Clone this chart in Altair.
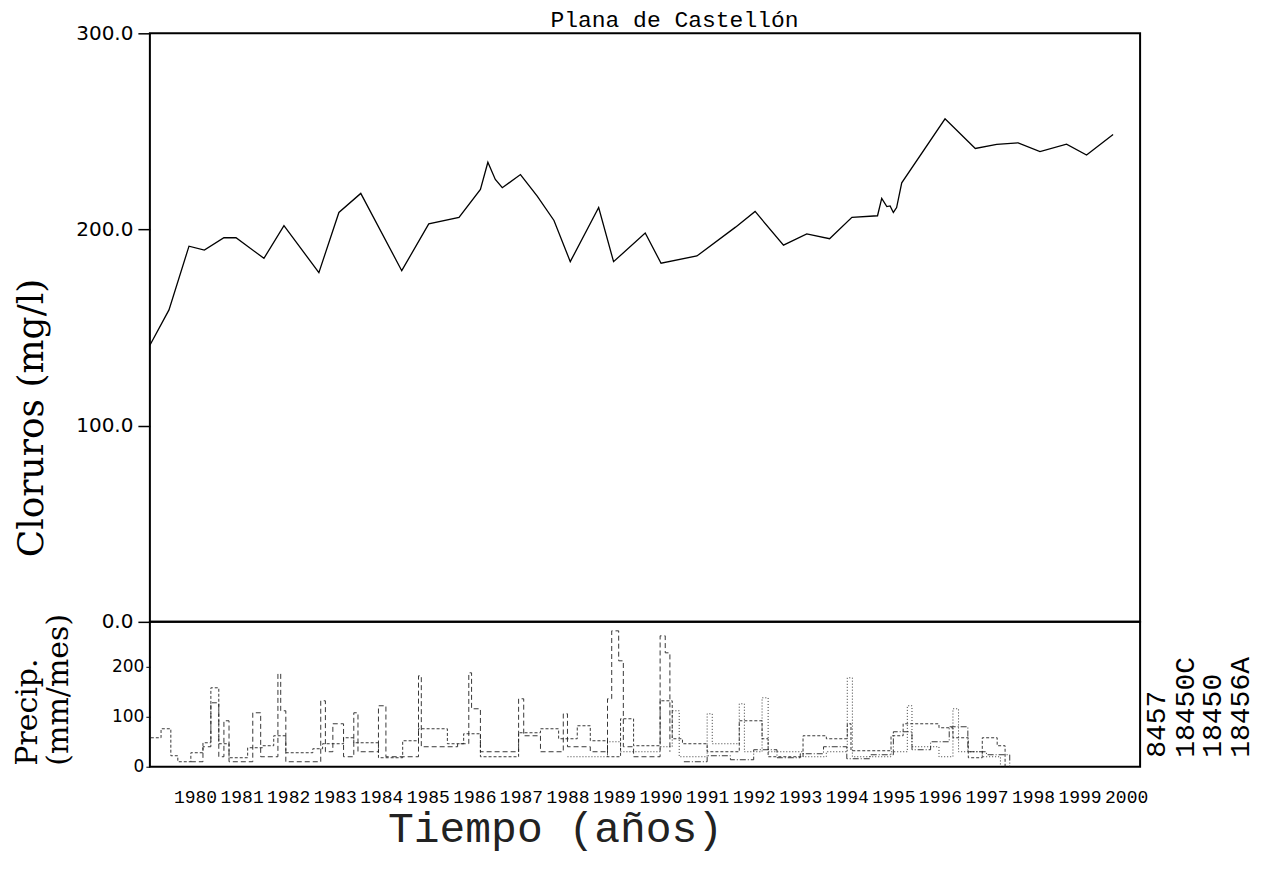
import altair as alt
import pandas as pd

# ---------------- data ----------------
main_title = "Plana de Castellón"
cl_axis_title = "Cloruros (mg/l)"
pr_axis_title_1 = "Precip."
pr_axis_title_2 = "(mm/mes)"
x_axis_title = "Tiempo (años)"

# chloride concentration (mg/l)
cl_year = [1979.03, 1979.44, 1979.87, 1980.20, 1980.62, 1980.88, 1981.48, 1981.91,
           1982.66, 1983.09, 1983.56, 1984.44, 1985.02, 1985.67, 1986.13, 1986.29,
           1986.45, 1986.60, 1986.99, 1987.35, 1987.71, 1988.06, 1988.67, 1988.99,
           1989.67, 1990.01, 1990.78, 1991.61, 1992.03, 1992.64, 1993.14, 1993.63,
           1994.11, 1994.66, 1994.75, 1994.86, 1994.93, 1995.00, 1995.07, 1995.18,
           1996.11, 1996.76, 1997.22, 1997.68, 1998.15, 1998.72, 1999.15, 1999.72]
cl_value = [141, 159, 191.5, 189.5, 195.8, 195.8, 185.3, 202,
            178, 208.7, 218.4, 179, 202.9, 206.2, 220.4, 234.3,
            225.5, 221.3, 228, 217, 204.6, 183.6, 211.2, 183.6,
            198.2, 182.8, 186.5, 201.2, 209.2, 192, 197.8, 195.3,
            206.2, 207, 215.9, 211.7, 212, 208.7, 211.2, 223.8,
            256.4, 241.3, 243.4, 244.2, 239.7, 243.5, 238, 248.4]

stations = ["8457", "18450C", "18450", "18456A"]

# monthly precipitation (mm/mes), one step series per station
p1_year = [1979.05, 1979.27, 1979.48, 1979.63, 1979.91, 1980.17, 1980.34, 1980.51, 1980.73,
           1981.13, 1981.45, 1981.69, 1981.95, 1982.53, 1982.74, 1983.19, 1983.41, 1983.94,
           1984.46, 1984.80, 1985.42, 1985.77, 1986.13, 1986.95, 1987.42, 1987.81, 1988.21,
           1988.49, 1988.86, 1989.14, 1989.42, 1989.99, 1990.25, 1990.47, 1991.00, 1991.69,
           1992.18, 1992.31, 1993.06, 1993.56, 1994.01, 1994.09, 1994.95, 1995.21, 1995.98,
           1996.28, 1996.61, 1996.91, 1997.23, 1997.40]
p1_val = [58, 76, 22, 10, 28, 48, 158, 46, 18,
          38, 42, 62, 28, 36, 46, 58, 48, 18,
          52, 76, 46, 66, 20, 68, 76, 56, 82,
          52, 20, 96, 42, 132, 56, 46, 30, 92,
          56, 20, 62, 56, 86, 32, 62, 86, 78,
          58, 18, 58, 42, 0]

p2_year = [1979.91, 1980.17, 1980.34, 1980.51, 1980.62, 1980.73, 1981.24, 1981.41, 1981.78,
           1981.84, 1981.95, 1982.70, 1982.80, 1982.96, 1983.19, 1983.41, 1983.50, 1983.94,
           1984.10, 1984.80, 1984.86, 1985.64, 1985.88, 1985.94, 1986.13, 1986.95, 1987.06,
           1987.42, 1987.91, 1988.00, 1988.49, 1988.86, 1988.95, 1989.10, 1989.20, 1989.42,
           1989.99, 1990.10, 1990.20]
p2_val = [10, 40, 128, 20, 92, 10, 108, 20, 186,
          112, 10, 132, 30, 86, 20, 108, 30, 122,
          20, 182, 40, 46, 188, 116, 30, 136, 62,
          30, 106, 40, 30, 136, 272, 212, 40, 20,
          262, 228, 30]

p3_year = [1988.00, 1988.86, 1989.14, 1989.99, 1990.25, 1990.40, 1991.00, 1991.11,
           1991.69, 1991.80, 1992.18, 1992.31, 1993.06, 1993.56, 1994.01, 1994.12,
           1994.95, 1995.30, 1995.40, 1995.98, 1996.28, 1996.40, 1996.91, 1997.30]
p3_val = [20, 50, 30, 40, 112, 20, 106, 46,
          126, 30, 138, 30, 20, 30, 178, 20,
          30, 122, 40, 20, 116, 30, 20, 0]

p4_year = [1990.50, 1991.00, 1991.50, 1992.00, 1992.50, 1993.00, 1993.50, 1994.00,
           1994.50, 1995.00, 1995.40, 1995.80, 1996.20, 1996.60, 1997.00, 1997.50]
p4_val = [10, 22, 14, 34, 18, 26, 40, 16,
          24, 70, 34, 50, 80, 30, 24, 0]

year_ticks = list(range(1980, 2001))
cl_ticks = [0, 100, 200, 300]
pr_ticks = [0, 100, 200]

# ---------------- tables ----------------
cl_df = pd.DataFrame({"year": cl_year, "cl": cl_value})
p_df = pd.concat([
    pd.DataFrame({"year": y, "p": v, "station": s})
    for s, y, v in zip(stations, [p1_year, p2_year, p3_year, p4_year],
                       [p1_val, p2_val, p3_val, p4_val])
], ignore_index=True)

# ---------------- layout ----------------
W = 991
H_TOP = 589
H_BOT = 145
X_DOMAIN = [1979.03, 2000.30]
xscale = alt.Scale(domain=X_DOMAIN, nice=False, zero=False)


def label(text, **kw):
    return alt.Chart(pd.DataFrame({"t": [text]})).mark_text(**kw).encode(text="t:N")


cl_line = alt.Chart(cl_df).mark_line(color="black", strokeWidth=1.3).encode(
    x=alt.X("year:Q", scale=xscale, axis=None),
    y=alt.Y("cl:Q", scale=alt.Scale(domain=[0, 300], nice=False),
            axis=alt.Axis(values=cl_ticks, format=".1f", title=None, grid=False,
                          domain=False, tickSize=12, tickColor="black", tickWidth=1.5,
                          labelFont="DejaVu Sans", labelFontSize=20, labelColor="black",
                          labelPadding=5)),
)

cl_title = label(cl_axis_title, angle=270, align="center", baseline="middle",
                 font="DejaVu Serif", fontSize=36, color="black").encode(
    x=alt.value(-118), y=alt.value(385))

top_title = label(main_title, align="center", baseline="middle",
                  font="Liberation Mono", fontSize=23, color="black").encode(
    x=alt.value(525), y=alt.value(-13))

upper = alt.layer(cl_line, cl_title, top_title).properties(width=W, height=H_TOP)

prec = alt.Chart(p_df).mark_line(color="#222", strokeWidth=0.9,
                                 interpolate="step-after").encode(
    x=alt.X("year:Q", scale=xscale,
            axis=alt.Axis(values=year_ticks, format="d", title=None, grid=False,
                          domain=False, ticks=False, labelOverlap=False,
                          labelFlush=False, labelFont="Liberation Mono",
                          labelFontSize=18, labelColor="black", labelPadding=22)),
    y=alt.Y("p:Q", scale=alt.Scale(domain=[0, 290], nice=False),
            axis=alt.Axis(values=pr_ticks, title=None, grid=False, domain=False,
                          tickSize=4, tickColor="black", labelFont="DejaVu Sans",
                          labelFontSize=17, labelColor="black", labelPadding=2)),
    strokeDash=alt.StrokeDash("station:N",
                              scale=alt.Scale(domain=stations,
                                              range=[[3, 2], [5, 3], [1, 2], [6, 2, 1, 2]]),
                              legend=None),
    detail="station:N",
)

pr_t1 = label(pr_axis_title_1, angle=270, align="left", baseline="middle",
              font="DejaVu Serif", fontSize=30, color="black").encode(
    x=alt.value(-122), y=alt.value(144))
pr_t2 = label(pr_axis_title_2, angle=270, align="left", baseline="middle",
              font="DejaVu Serif", fontSize=30, color="black").encode(
    x=alt.value(-91), y=alt.value(144))
x_title = label(x_axis_title, align="center", baseline="middle",
                font="Liberation Mono", fontSize=43, color="#222").encode(
    x=alt.value(406), y=alt.value(207))

station_x = [1008, 1037, 1064, 1092]
station_labels = [
    label(s, angle=270, align="left", baseline="middle", font="Liberation Mono",
          fontSize=28, color="black").encode(x=alt.value(sx), y=alt.value(136))
    for s, sx in zip(stations, station_x)
]

lower = alt.layer(prec, pr_t1, pr_t2, x_title, *station_labels).properties(
    width=W, height=H_BOT)

chart = alt.vconcat(upper, lower, spacing=0, bounds="flush").properties(
    padding={"left": 4, "top": 0, "right": 2, "bottom": 2}
).configure_view(stroke="black", strokeWidth=2).configure_concat(spacing=0)

chart.save("out.html", embed_options={"renderer": "svg", "actions": False})
